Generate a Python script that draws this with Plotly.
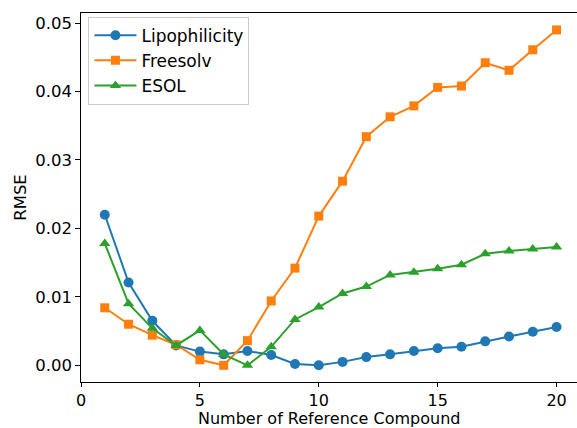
import plotly.graph_objects as go

n_ref = list(range(1, 21))
lipophilicity = [0.0220, 0.0121, 0.0065, 0.0029, 0.0020, 0.0016, 0.0021, 0.0015, 0.0002, 0.0000,
                 0.0005, 0.0012, 0.0016, 0.0021, 0.0025, 0.0027, 0.0035, 0.0042, 0.0049, 0.0056]
freesolv = [0.0084, 0.0060, 0.0044, 0.0030, 0.0008, 0.0000, 0.0036, 0.0094, 0.0142, 0.0218,
            0.0269, 0.0334, 0.0363, 0.0379, 0.0406, 0.0408, 0.0442, 0.0431, 0.0461, 0.0490]
esol = [0.0178, 0.0090, 0.0054, 0.0029, 0.0051, 0.0016, 0.0000, 0.0027, 0.0067, 0.0085,
        0.0105, 0.0115, 0.0132, 0.0136, 0.0141, 0.0147, 0.0163, 0.0167, 0.0170, 0.0173]

x_ticks = [0, 5, 10, 15, 20]
y_ticks = [0.00, 0.01, 0.02, 0.03, 0.04, 0.05]
y_tick_labels = ["0.00", "0.01", "0.02", "0.03", "0.04", "0.05"]
x_title = "Number of Reference Compound"
y_title = "RMSE"

series = [
    ("Lipophilicity", lipophilicity, "#1f77b4", "circle", 10),
    ("Freesolv", freesolv, "#ff7f0e", "square", 9),
    ("ESOL", esol, "#2ca02c", "triangle-up", 10),
]

fig = go.Figure()
for name, vals, color, sym, size in series:
    fig.add_trace(go.Scatter(
        x=n_ref, y=vals, name=name, mode="lines+markers",
        line=dict(color=color, width=2),
        marker=dict(color=color, symbol=sym, size=size),
        legendgroup=name,
    ))

font = dict(family="DejaVu Sans", size=16.5, color="black")
title_font = dict(family="DejaVu Sans", size=16, color="black")
fig.update_layout(
    width=577, height=428,
    margin=dict(l=80.5, r=0, t=13.3, b=46.3, autoexpand=False),
    paper_bgcolor="white", plot_bgcolor="white",
    font=font,
    showlegend=True,
    legend=dict(
        x=0.015, y=0.99, xanchor="left", yanchor="top",
        bgcolor="white", bordercolor="rgba(0,0,0,0.2)", borderwidth=1,
        font=dict(family="DejaVu Sans", size=17, color="black"),
        tracegroupgap=0, itemwidth=42,
    ),
    annotations=[dict(
        text=x_title, xref="paper", yref="paper", x=0.5, y=-0.0985,
        xanchor="center", yanchor="middle", showarrow=False, font=title_font,
    )],
)
fig.update_xaxes(
    range=[0, 20.86], tickvals=x_ticks, showgrid=False, zeroline=False,
    showline=True, linecolor="black", linewidth=1.2, mirror=True,
    ticks="outside", ticklen=3.5, tickcolor="black", tickwidth=1.2,
    tickfont=title_font,
)
fig.update_yaxes(
    range=[-0.00244, 0.05147], tickvals=y_ticks, ticktext=y_tick_labels,
    showgrid=False, zeroline=False,
    showline=True, linecolor="black", linewidth=1.2,
    ticks="outside", ticklen=4.5, tickcolor="black", tickwidth=1.2,
    title=dict(text=y_title, font=font, standoff=4),
)
fig.write_html("out.html")
